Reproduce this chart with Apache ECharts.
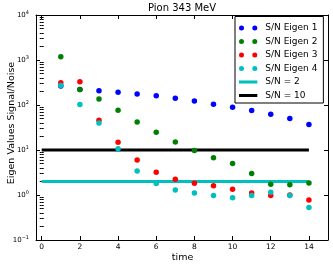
<!DOCTYPE html>
<html><head><meta charset="utf-8">
<script src="https://cdn.jsdelivr.net/npm/echarts@6/dist/echarts.min.js"></script>
<style>html,body{margin:0;padding:0;background:#fff}#c{width:333px;height:268px}</style>
</head><body><div id="c"></div><script>
const times = [1,2,3,4,5,6,7,8,9,10,11,12,13,14];
const eigen1 = [265,220,208,191,176,161,141,123,104,89,75,62,50,37];
const eigen2 = [1180,222,136,76,42,24.7,15,9.7,6.7,5.0,3.0,1.73,1.7,1.85];
const eigen3 = [313,330,46,14.8,6.0,3.2,2.23,1.82,1.61,1.34,1.11,0.97,1.0,0.77];
const eigen4 = [270,102,40,10.7,3.4,1.79,1.29,1.11,0.98,0.87,0.97,1.15,0.98,0.53];
const lineStart = 0, lineEnd = 14;
const snLevels = [2, 10];
const xTicks = [0,2,4,6,8,10,12,14];
const seriesNames = ['S/N Eigen 1','S/N Eigen 2','S/N Eigen 3','S/N Eigen 4'];
const lineNames = ['S/N = 2','S/N = 10'];
const colors = ['#0000ff','#008000','#ff0000','#00bfbf'];
const lineColors = ['#00bfbf','#000000'];

const FONT = 'DejaVu Sans';
const minorLog = [];
for (let n = -1; n <= 3; n++) for (let k = 2; k <= 9; k++) minorLog.push(Math.log10(k * Math.pow(10, n)));

const chart = echarts.init(document.getElementById('c'), null, {renderer:'canvas'});
const allVals = [eigen1, eigen2, eigen3, eigen4];
const scatterSeries = allVals.map((vals, i) => ({
  type:'scatter', name: seriesNames[i], xAxisIndex:0, yAxisIndex:0,
  data: times.map((t, j) => [t, vals[j]]),
  symbol:'circle', symbolSize:5.5, itemStyle:{color: colors[i], opacity:1},
  z: 5 + i, silent:true
}));
const lineSeries = snLevels.map((v, i) => ({
  type:'line', name: lineNames[i], xAxisIndex:0, yAxisIndex:0,
  data: [[lineStart, v],[lineEnd, v]], symbol:'none', showSymbol:false,
  lineStyle:{color: lineColors[i], width:3, cap:'butt'}, itemStyle:{color: lineColors[i]},
  z: 2, silent:true
}));

const twoDots = 'path://M0,2.5A2.5,2.5 0 1,0 5,2.5A2.5,2.5 0 1,0 0,2.5ZM13.3,2.5A2.5,2.5 0 1,0 18.3,2.5A2.5,2.5 0 1,0 13.3,2.5Z';
const barIcon = 'path://M0,0H18V3H0Z';

const supDigits = v => {
  const e = Math.round(Math.log10(v));
  return '{b|10}{s|' + (e < 0 ? '\u2212' + (-e) : e) + '}';
};

const grid = {left:36, top:15, width:292, height:225};
const axisLineStyle = {color:'#000', width:1};

const option = {
  animation:false,
  backgroundColor:'#fff',
  title:{text:'Pion 343 MeV', left:182, top:3, padding:0, textAlign:'center',
    textStyle:{fontFamily:FONT, fontSize:10, fontWeight:'normal', color:'#000'}},
  grid: grid,
  xAxis:[
    {type:'value', position:'bottom', min:-0.3, max:15,
     axisLine:{show:true, onZero:false, lineStyle:axisLineStyle},
     axisTick:{show:true, inside:true, length:4, customValues:xTicks, lineStyle:{color:'#000'}},
     axisLabel:{show:true, customValues:xTicks, margin:3, fontFamily:FONT, fontSize:7.5, color:'#000'},
     splitLine:{show:false}},
    {type:'value', position:'top', min:-0.3, max:15,
     axisLine:{show:true, onZero:false, lineStyle:axisLineStyle},
     axisTick:{show:true, inside:true, length:4, customValues:xTicks, lineStyle:{color:'#000'}},
     axisLabel:{show:false}, splitLine:{show:false}}
  ],
  yAxis:[
    {type:'log', logBase:10, min:0.1, max:10000, position:'left',
     axisLine:{show:true, onZero:false, lineStyle:axisLineStyle},
     axisTick:{show:true, inside:true, length:4, lineStyle:{color:'#000'}},
     axisLabel:{show:true, margin:7, formatter: supDigits,
       rich:{b:{fontFamily:FONT, fontSize:7, color:'#000'},
             s:{fontFamily:FONT, fontSize:5, color:'#000', padding:[0,0,5,0]}}},
     splitLine:{show:false}, minorTick:{show:false}},
    {type:'log', logBase:10, min:0.1, max:10000, position:'right',
     axisLine:{show:true, onZero:false, lineStyle:axisLineStyle},
     axisTick:{show:true, inside:true, length:4, lineStyle:{color:'#000'}},
     axisLabel:{show:false}, splitLine:{show:false}},
    {type:'value', min:-1, max:4, position:'left',
     axisLine:{show:false}, axisLabel:{show:false}, splitLine:{show:false},
     axisTick:{show:true, inside:true, length:2, customValues:minorLog, lineStyle:{color:'#000'}}},
    {type:'value', min:-1, max:4, position:'right',
     axisLine:{show:false}, axisLabel:{show:false}, splitLine:{show:false},
     axisTick:{show:true, inside:true, length:2, customValues:minorLog, lineStyle:{color:'#000'}}}
  ],
  legend:{
    show:true, orient:'vertical', left:235, top:16.5,
    backgroundColor:'#fff', borderColor:'#000', borderWidth:1, borderRadius:0,
    padding:[6,6,2,4], itemGap:2.5, itemWidth:18.3, itemHeight:5,
    itemStyle:{borderWidth:0},
    textStyle:{fontFamily:FONT, fontSize:9, color:'#000', lineHeight:11, padding:[0,0,0,3]},
    selectedMode:false,
    data: seriesNames.map(n => ({name:n, icon:twoDots})).concat(lineNames.map(n => ({name:n, icon:barIcon})))
  },
  graphic:[
    {type:'text', x:12, y:123, rotation:Math.PI/2,
     style:{text:'Eigen Values Signal/Noise', fontFamily:FONT, fontSize:9.5, fill:'#000', textAlign:'center', textVerticalAlign:'middle'}},
    {type:'text', x:182.5, y:257.7,
     style:{text:'time', fontFamily:FONT, fontSize:9.5, fill:'#000', textAlign:'center', textVerticalAlign:'middle'}}
  ],
  series: lineSeries.concat(scatterSeries)
};
chart.setOption(option);
</script></body></html>
